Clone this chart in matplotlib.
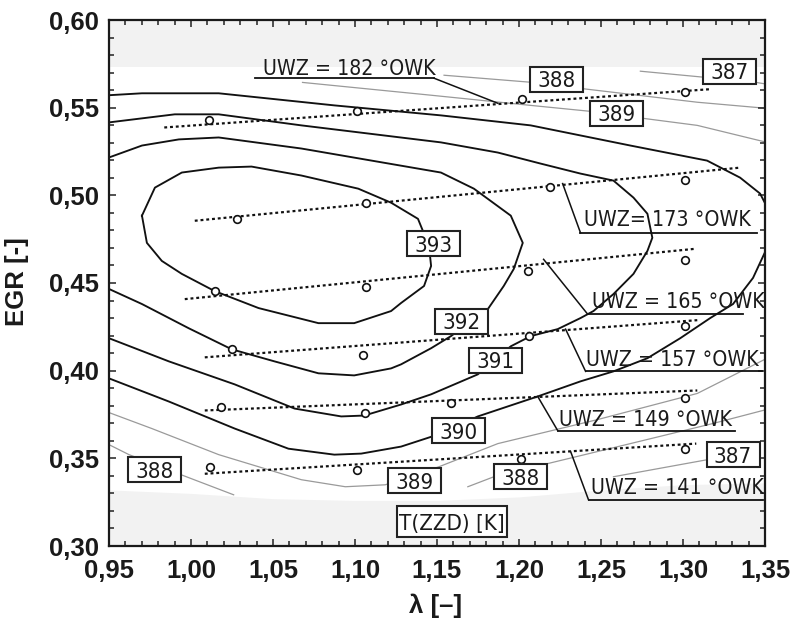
import matplotlib
matplotlib.use("Agg")
import matplotlib.pyplot as plt
from matplotlib import font_manager
from matplotlib.font_manager import FontProperties
from matplotlib.patches import Rectangle
from matplotlib.ticker import MultipleLocator, FuncFormatter

# ---------------- data ----------------
# isolines of T(ZZD) [K]: (lambda, EGR)
c393_x = [0.9701, 0.9780, 0.9944, 1.0169, 1.0369, 1.0673, 1.1020, 1.1220, 1.1384, 1.1451, 1.1464, 1.1421,
          1.1281, 1.1220, 1.0995, 1.0777, 1.0412, 1.0144, 0.9944, 0.9822, 0.9731, 0.9701]
c393_y = [0.4884, 0.5044, 0.5130, 0.5158, 0.5164, 0.5113, 0.5038, 0.4958, 0.4866, 0.4712, 0.4597, 0.4483,
          0.4386, 0.4340, 0.4271, 0.4271, 0.4357, 0.4454, 0.4552, 0.4626, 0.4729, 0.4884]

c392_x = [0.9500, 0.9701, 0.9926, 1.0169, 1.0673, 1.1524, 1.1725, 1.1950, 1.2023, 1.1968, 1.1907, 1.1810,
          1.1585, 1.1464, 1.1281, 1.1220, 1.0995, 1.0777, 1.0509, 1.0248, 0.9986, 0.9701, 0.9500]
c392_y = [0.5216, 0.5284, 0.5319, 0.5330, 0.5267, 0.5130, 0.5038, 0.4884, 0.4729, 0.4580, 0.4483, 0.4351,
          0.4197, 0.4128, 0.4036, 0.4013, 0.3973, 0.3985, 0.4053, 0.4122, 0.4242, 0.4380, 0.4466]

c391_x = [0.9500, 0.9901, 1.0169, 1.0673, 1.1524, 1.1871, 1.2132, 1.2375, 1.2576, 1.2698, 1.2783, 1.2813,
          1.2783, 1.2698, 1.2576, 1.2454, 1.2375, 1.2236, 1.2071, 1.1950, 1.1749, 1.1464, 1.1281, 1.1056,
          1.0916, 1.0631, 1.0266, 0.9865, 0.9500]
c391_y = [0.5416, 0.5462, 0.5462, 0.5399, 0.5302, 0.5244, 0.5181, 0.5124, 0.5084, 0.4987, 0.4895, 0.4758,
          0.4683, 0.4552, 0.4437, 0.4340, 0.4300, 0.4237, 0.4197, 0.4139, 0.3979, 0.3865, 0.3807, 0.3744,
          0.3739, 0.3784, 0.3922, 0.4053, 0.4185]

c390_x = [0.9500, 0.9701, 1.0169, 1.0874, 1.1524, 1.2071, 1.2679, 1.3147, 1.3348, 1.3470, 1.3530, 1.3543,
          1.3512, 1.3427, 1.3305, 1.3166, 1.2983, 1.2783, 1.2576, 1.2375, 1.2114, 1.1749, 1.1524, 1.1281,
          1.1038, 1.0874, 1.0594, 1.0266, 0.9865, 0.9500]
c390_y = [0.5571, 0.5582, 0.5582, 0.5513, 0.5456, 0.5399, 0.5284, 0.5198, 0.5101, 0.5010, 0.4901, 0.4798,
          0.4700, 0.4529, 0.4380, 0.4300, 0.4185, 0.4071, 0.3996, 0.3939, 0.3853, 0.3739, 0.3641, 0.3567,
          0.3527, 0.3521, 0.3555, 0.3670, 0.3824, 0.3956]

# thin grey isolines
g389_top_x = [1.0680, 1.1464, 1.2071, 1.2436, 1.2758, 1.3087, 1.3512]
g389_top_y = [0.5644, 0.5571, 0.5513, 0.5479, 0.5439, 0.5399, 0.5302]
g388_top_x = [1.1543, 1.2071, 1.2418, 1.3087, 1.3512]
g388_top_y = [0.5685, 0.5645, 0.5605, 0.5531, 0.5496]
g387_top_x = [1.2740, 1.3123, 1.3439, 1.3512]
g387_top_y = [0.5708, 0.5674, 0.5645, 0.5634]
g389_bot_x = [0.9500, 0.9761, 1.0169, 1.0673, 1.0941, 1.1184, 1.1512, 1.1871, 1.2479, 1.3087, 1.3500]
g389_bot_y = [0.3761, 0.3670, 0.3521, 0.3378, 0.3338, 0.3349, 0.3452, 0.3584, 0.3721, 0.3870, 0.4065]
g388_left_x = [0.9500, 0.9622, 0.9938, 1.0260]
g388_left_y = [0.3578, 0.3521, 0.3407, 0.3292]
g388_bot_x = [1.1688, 1.1847, 1.2175, 1.2679, 1.3184, 1.3512]
g388_bot_y = [0.3338, 0.3395, 0.3470, 0.3584, 0.3699, 0.3779]
g387_bot_x = [1.2576, 1.3147, 1.3348]
g387_bot_y = [0.3395, 0.3492, 0.3527]

# measured points for each UWZ group
uwz_groups = [182, 173, 165, 157, 149, 141]
pts_lambda = {
    182: [1.011, 1.101, 1.202, 1.301],
    173: [1.028, 1.107, 1.219, 1.301],
    165: [1.0144, 1.1069, 1.2053, 1.3014],
    157: [1.0248, 1.1050, 1.2059, 1.3014],
    149: [1.0181, 1.1062, 1.1585, 1.3014],
    141: [1.0114, 1.1014, 1.2011, 1.3014],
}
pts_egr = {
    182: [0.543, 0.548, 0.555, 0.559],
    173: [0.4866, 0.4958, 0.5050, 0.5090],
    165: [0.4454, 0.4477, 0.4569, 0.4632],
    157: [0.4122, 0.4088, 0.4197, 0.4254],
    149: [0.3790, 0.3756, 0.3813, 0.3842],
    141: [0.3452, 0.3435, 0.3498, 0.3555],
}
# trend (dotted) line ends
trend_lambda = {
    182: [0.9837, 1.3160], 173: [1.0023, 1.3348], 165: [0.9962, 1.3074],
    157: [1.0084, 1.3087], 149: [1.0084, 1.3087], 141: [1.0084, 1.3081],
}
trend_egr = {
    182: [0.5387, 0.5605], 173: [0.4855, 0.5158], 165: [0.4408, 0.4695],
    157: [0.4076, 0.4288], 149: [0.3773, 0.3887], 141: [0.3412, 0.3584],
}

# white band (region with T above ~388 K)
band_x = [0.95, 1.00, 1.05, 1.10, 1.15, 1.20, 1.25, 1.30, 1.35]
band_lo = [0.332, 0.330, 0.327, 0.326, 0.326, 0.328, 0.332, 0.335, 0.336]
band_hi = [0.5735, 0.5735, 0.5735, 0.5735, 0.5735, 0.5735, 0.5735, 0.5735, 0.5735]

iso_labels = ["388", "389", "387", "393", "392", "391", "390", "389", "388", "387", "388"]
iso_label_pos = [(1.2229, 0.5662), (1.2594, 0.5468), (1.3281, 0.5708), (1.1476, 0.4723),
                 (1.1652, 0.4282), (1.1859, 0.4059), (1.1634, 0.3658), (1.1360, 0.3372),
                 (1.2011, 0.3395), (1.3305, 0.3521), (0.9780, 0.3435)]

uwz_texts = ["UWZ = 182 °OWK", "UWZ= 173 °OWK", "UWZ = 165 °OWK",
             "UWZ = 157 °OWK", "UWZ = 149 °OWK", "UWZ = 141 °OWK"]

x_ticks = [0.95, 1.00, 1.05, 1.10, 1.15, 1.20, 1.25, 1.30, 1.35]
y_ticks = [0.30, 0.35, 0.40, 0.45, 0.50, 0.55, 0.60]

# ---------------- fonts ----------------
plt.rcParams['font.family'] = ['Liberation Sans', 'DejaVu Sans']
narrow_path = None
for f in font_manager.fontManager.ttflist:
    if f.name == 'Liberation Sans Narrow' and f.style == 'normal' and f.weight in (400, 'normal', 'regular'):
        narrow_path = f.fname
        break
if narrow_path is None:
    for f in font_manager.fontManager.ttflist:
        if ('Condensed' in f.fname or f.stretch == 'condensed') and 'Bold' not in f.fname \
                and 'Oblique' not in f.fname and 'Italic' not in f.fname and 'Sans' in f.name:
            narrow_path = f.fname
            break

def tfont(size_narrow, size_wide):
    if narrow_path:
        return FontProperties(fname=narrow_path, size=size_narrow)
    return FontProperties(family='Liberation Sans', size=size_wide)

fig = plt.figure(figsize=(8.03, 6.28), dpi=100)
ax = fig.add_axes([109 / 803, 82 / 628, 656 / 803, 526 / 628])
ax.set_xlim(0.95, 1.35)
ax.set_ylim(0.30, 0.60)
# data units per pixel (for label boxes of a fixed pixel size)
dx_px = 0.40 / 656
dy_px = 0.30 / 526

ax.set_facecolor('#f2f2f2')
ax.fill_between(band_x, band_lo, band_hi, color='white', lw=0, zorder=0)

black_kw = dict(color='#111111', lw=1.35, zorder=2, solid_joinstyle='round')
for xs, ys in [(c393_x, c393_y), (c392_x, c392_y), (c391_x, c391_y), (c390_x, c390_y)]:
    ax.plot(xs, ys, **black_kw)

grey_kw = dict(color='#9a9a9a', lw=0.9, zorder=1.5)
for xs, ys in [(g389_top_x, g389_top_y), (g388_top_x, g388_top_y), (g387_top_x, g387_top_y),
               (g389_bot_x, g389_bot_y), (g388_left_x, g388_left_y), (g388_bot_x, g388_bot_y),
               (g387_bot_x, g387_bot_y)]:
    ax.plot(xs, ys, **grey_kw)

for g in uwz_groups:
    ax.plot(trend_lambda[g], trend_egr[g], color='#111111', lw=1.6,
            linestyle=(0, (1.3, 1.3)), zorder=3)
    ax.plot(pts_lambda[g], pts_egr[g], linestyle='none', marker='o', ms=5.5,
            mfc='white', mec='#111111', mew=1.2, zorder=4)

# UWZ annotations: text, underline, pointer to trend line
uwz_layout = [
    (1.0442, 0.5722, 0.5668, 1.0388, 1.1482, (1.1871, 0.5525), 'right'),
    (1.2394, 0.4858, 0.4786, 1.2375, 1.3451, (1.2266, 0.5067), 'left'),
    (1.2448, 0.4394, 0.4323, 1.2418, 1.3366, (1.2150, 0.4635), 'left'),
    (1.2406, 0.4062, 0.3996, 1.2406, 1.3482, (1.2284, 0.4237), 'left'),
    (1.2242, 0.3719, 0.3658, 1.2236, 1.3318, (1.2114, 0.3853), 'left'),
    (1.2436, 0.3329, 0.3263, 1.2424, 1.3488, (1.2315, 0.3538), 'left'),
]
for txt, (tx, ty, uy, ux0, ux1, (px, py), side) in zip(uwz_texts, uwz_layout):
    ax.text(tx, ty, txt, fontproperties=tfont(15.3, 15), color='#1a1a1a',
            ha='left', va='center', zorder=6)
    ax.plot([ux0, ux1], [uy, uy], color='#111111', lw=1.3, zorder=5)
    sx = ux1 if side == 'right' else ux0
    ax.plot([sx, px], [uy, py], color='#111111', lw=1.1, zorder=5)

def boxed(x, y, s, wpx, hpx):
    ax.add_patch(Rectangle((x - wpx * dx_px / 2, y - hpx * dy_px / 2), wpx * dx_px, hpx * dy_px,
                           fc='white', ec='#222222', lw=1.5, zorder=7))
    ax.text(x, y, s, fontproperties=tfont(16, 15.5), color='#1a1a1a',
            ha='center', va='center_baseline', zorder=8)

for lab, (lx, ly) in zip(iso_labels, iso_label_pos):
    boxed(lx, ly, lab, 53, 25)
boxed(1.1591, 0.3138, "T(ZZD) [K]", 110, 31)

# axes, ticks
ax.set_xticks(x_ticks)
ax.set_yticks(y_ticks)
ax.xaxis.set_minor_locator(MultipleLocator(0.01))
ax.yaxis.set_minor_locator(MultipleLocator(0.01))
fmt = FuncFormatter(lambda v, p: f"{v:.2f}".replace('.', ','))
ax.xaxis.set_major_formatter(fmt)
ax.yaxis.set_major_formatter(fmt)
ax.tick_params(which='both', direction='in', top=True, right=True, width=1.1, color='#222222')
ax.tick_params(which='major', length=5)
ax.tick_params(which='minor', length=3.5)
ax.tick_params(axis='x', which='major', pad=9, labelsize=18.5)
ax.tick_params(axis='y', which='major', pad=7, labelsize=18.5)
for lab in ax.get_xticklabels() + ax.get_yticklabels():
    lab.set_fontweight('bold')
    lab.set_color('#1a1a1a')
for sp in ax.spines.values():
    sp.set_linewidth(1.6)
    sp.set_color('#1a1a1a')

fig.text(17 / 803, 1 - 282 / 628, "EGR [-]", rotation=90, ha='center', va='center',
         fontsize=18.5, fontweight='bold', color='#1a1a1a')
fig.text(436 / 803, 1 - 606 / 628, "λ [–]", ha='center', va='center',
         fontsize=18.5, fontweight='bold', color='#1a1a1a')

fig.savefig("out.png", dpi=100)
